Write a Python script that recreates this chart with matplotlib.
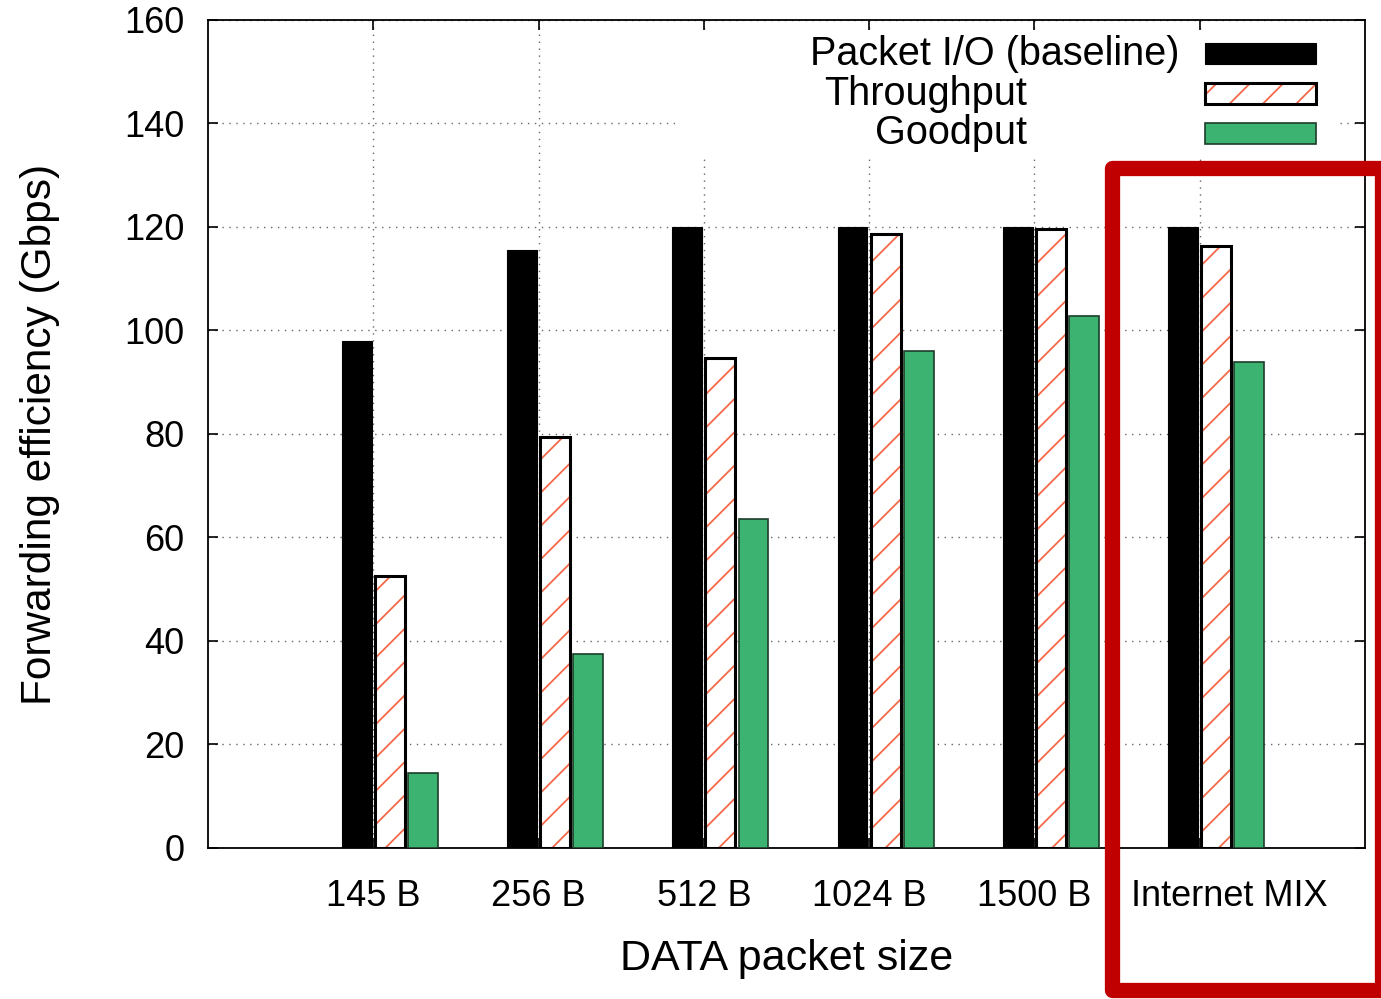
import numpy as np
import matplotlib
matplotlib.use("Agg")
import matplotlib.pyplot as plt
import matplotlib.transforms as mtransforms
from matplotlib.patches import Rectangle

plt.rcParams['font.family'] = ['Liberation Sans', 'DejaVu Sans']
plt.rcParams['hatch.linewidth'] = 1.3

# dati
categorie = ['145 B', '256 B', '512 B', '1024 B', '1500 B', 'Internet MIX']
serie_nomi = ['Packet I/O (baseline)', 'Throughput', 'Goodput']
baseline = [98.0, 115.5, 120.0, 120.0, 120.0, 120.0]
throughput = [52.5, 79.5, 94.7, 118.7, 119.7, 116.3]
goodput = [14.5, 37.5, 63.6, 96.0, 102.8, 93.9]
y_ticks = [0, 20, 40, 60, 80, 100, 120, 140, 160]

col_verde = '#3cb371'
col_hatch = '#f4694a'

fig = plt.figure(figsize=(13.81, 9.99), dpi=100)
ax = fig.add_axes([0.1506, 0.1512, 0.8378, 0.8288])

x = np.arange(1, len(categorie) + 1)
w = 0.18

# barre
ax.bar(x - 0.1, baseline, w, color='black', edgecolor='black', linewidth=0.8, zorder=3)
ax.bar(x + 0.1, throughput, w, color='white', edgecolor=col_hatch, hatch='/', linewidth=0, zorder=3)
ax.bar(x + 0.1, throughput, w, fill=False, edgecolor='black', linewidth=2.2, zorder=4)
ax.bar(x + 0.3, goodput, w, color=col_verde, edgecolor='#1d3d2a', linewidth=1.2, zorder=3)

ax.set_xlim(0, 7)
ax.set_ylim(0, 160)
ax.set_xticks(x)
ax.set_xticklabels(categorie)
ax.set_yticks(y_ticks)

ax.tick_params(axis='both', direction='in', length=7, width=1.2, labelsize=26)
ax.tick_params(axis='y', right=True, pad=17)
ax.tick_params(axis='x', top=True, pad=22)
for s in ax.spines.values():
    s.set_linewidth(1.3)

# l'ultima etichetta nel riferimento e' spostata a destra
ultima = ax.get_xticklabels()[-1]
ultima.set_transform(ultima.get_transform() +
                     mtransforms.ScaledTranslation(0.30, 0, fig.dpi_scale_trans))

ax.grid(True, color='#666666', linestyle=(0, (1, 4)), linewidth=1.0, zorder=0)
ax.set_axisbelow(True)

ax.set_xlabel('DATA packet size', fontsize=31, labelpad=18)
ax.set_ylabel('Forwarding efficiency (Gbps)', fontsize=30.5, labelpad=46)

# legenda in stile gnuplot
ax.add_patch(Rectangle((0.404, 0.837), 0.574, 0.151, transform=ax.transAxes,
                       facecolor='white', edgecolor='none', zorder=5))
leg_y = [0.9595, 0.9112, 0.8629]
leg_txt_x = [0.840, 0.708, 0.708]
stili = [dict(facecolor='black', edgecolor='black', linewidth=0.8),
         dict(facecolor='white', edgecolor=col_hatch, hatch='/', linewidth=0),
         dict(facecolor=col_verde, edgecolor='#1d3d2a', linewidth=1.2)]
for nome, yy, xt, st in zip(serie_nomi, leg_y, leg_txt_x, stili):
    ax.text(xt, yy, nome, transform=ax.transAxes, ha='right', va='center',
            fontsize=28.5, zorder=6)
    ax.add_patch(Rectangle((0.8617, yy - 0.0127), 0.0959, 0.0254,
                           transform=ax.transAxes, zorder=6, **st))
ax.add_patch(Rectangle((0.8617, leg_y[1] - 0.0127), 0.0959, 0.0254,
                       transform=ax.transAxes, fill=False, edgecolor='black',
                       linewidth=2.2, zorder=7))

# riquadro rosso di evidenziazione
fig.patches.append(Rectangle((0.8049, 0.009), 0.1958, 0.8228, transform=fig.transFigure,
                             fill=False, edgecolor='#c00000', linewidth=11,
                             joinstyle='round', zorder=10))

fig.savefig('out.png', dpi=100)
